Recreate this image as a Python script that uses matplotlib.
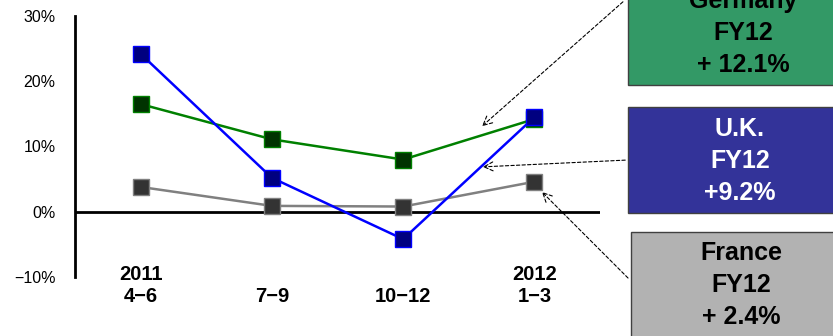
import matplotlib.pyplot as plt
from matplotlib.patches import Rectangle

plt.rcParams['font.family'] = ['Liberation Sans', 'DejaVu Sans']

quarters = ["2011\n4\u22126", "\n7\u22129", "\n10\u221212", "2012\n1\u22123"]
france = [3.8, 0.9, 0.8, 4.6]
germany = [16.5, 11.1, 8.0, 14.2]
uk = [24.2, 5.2, -4.2, 14.5]
yticks = [-10, 0, 10, 20, 30]

box_labels = ["Germany\nFY12\n+ 12.1%", "U.K.\nFY12\n+9.2%", "France\nFY12\n+ 2.4%"]

W, H = 833, 336
fig = plt.figure(figsize=(W / 100, H / 100), dpi=100)
ax = fig.add_axes([75 / W, 1 - 277 / H, 525 / W, 261 / H])

x = range(len(quarters))
ax.plot(x, france, color="#808080", lw=1.8, marker="s", ms=11,
        mfc="#333333", mec="#808080", mew=1, zorder=3)
ax.plot(x, germany, color="#008000", lw=1.8, marker="s", ms=11,
        mfc="#003300", mec="#008000", mew=1, zorder=4)
ax.plot(x, uk, color="#0000ff", lw=1.8, marker="s", ms=11,
        mfc="#000080", mec="#0000ff", mew=1, zorder=5)

ax.axhline(0, color="black", lw=2, zorder=2)
ax.set_xlim(-0.5, 3.5)
ax.set_ylim(-10, 30)
ax.set_yticks(yticks)
ax.set_yticklabels([f"{v}%".replace("-", "\u2212") for v in yticks], fontsize=11.5)
ax.tick_params(axis="y", length=0, pad=14)
ax.set_xticks([])
for s in ["top", "right", "bottom"]:
    ax.spines[s].set_visible(False)
ax.spines["left"].set_linewidth(2)

for i, lab in enumerate(quarters):
    ax.text(i, -8.2, lab, ha="center", va="top", fontsize=14.5,
            fontweight="bold", linespacing=1.2)

# country summary boxes on the right
boxes = [
    (628, -20, 105, "#339966", "black", 743),
    (628, 107, 106, "#333399", "white", 740),
    (631, 232, 130, "#b2b2b2", "black", 741),
]
text_y = [33, 161, 285]
for (bx, by, bh, fc, tc, tx), lab, ty in zip(boxes, box_labels, text_y):
    fig.patches.append(Rectangle((bx, H - by - bh), 260, bh, transform=None,
                                 facecolor=fc, edgecolor="#404040", lw=1))
    fig.text(tx / W, 1 - ty / H, lab, ha="center", va="center", color=tc,
             fontsize=18, fontweight="bold", linespacing=1.42)

# dashed pointers from boxes to the lines
arrows = [((625, 0), (480, 128)), ((628, 160), (480, 167)), ((630, 280), (540, 190))]
for (x0, y0), (x1, y1) in arrows:
    fig.add_artist(plt.Annotation(
        "", xy=(x1, H - y1), xytext=(x0, H - y0),
        xycoords="figure pixels", textcoords="figure pixels",
        arrowprops=dict(arrowstyle="->", color="black", lw=0.8,
                        linestyle=(0, (3, 2)), mutation_scale=16)))

fig.savefig("out.png", dpi=100)
